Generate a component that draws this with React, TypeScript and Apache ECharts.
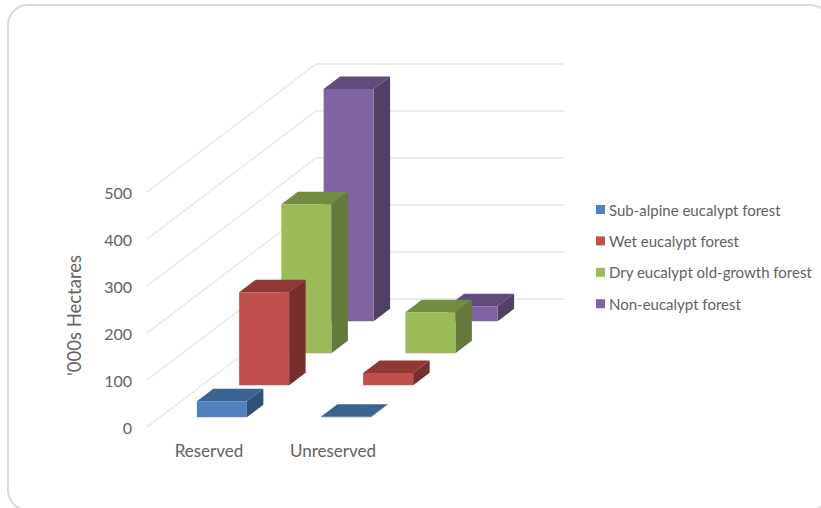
import React, { useEffect, useRef } from "react";
import * as echarts from "echarts";

const categories = ["Reserved", "Unreserved"];
const yTicks = [0, 100, 200, 300, 400, 500];
const subAlpine = [34, 1];
const wetEucalypt = [198, 26];
const dryOldGrowth = [317, 87];
const nonEucalypt = [494, 32];

const seriesNames = [
  "Sub-alpine eucalypt forest",
  "Wet eucalypt forest",
  "Dry eucalypt old-growth forest",
  "Non-eucalypt forest",
];
const seriesValues = [subAlpine, wetEucalypt, dryOldGrowth, nonEucalypt];
const frontColors = ["#4f81bd", "#c0504d", "#9bbb59", "#8064a2"];
const topColors = ["#3c6491", "#8f3836", "#748c41", "#604b7a"];
const sideColors = ["#2f5079", "#772e2c", "#64793a", "#523f66"];

// Oblique projection of the floor: one depth row moves a point right and up.
const ROW_DX = 42.25;
const ROW_DY = -32;
const ROW_COUNT = 4;
const BAR_WIDTH = 50;
const BAR_DEPTH = 0.39; // share of a row taken by the bar
const ROW_INSET = (1 - BAR_DEPTH) / 2;

const TEXT_COLOR = "#626262";
const FONT = "Lato, Carlito, 'Noto Sans', sans-serif";

function pts(a: number[][]) {
  return { points: a };
}

function barRenderer(row: number) {
  return (_params: any, api: any) => {
    const base = api.coord([api.value(0), 0]);
    const tip = api.coord([api.value(0), api.value(1)]);
    const off = row + ROW_INSET;
    const x0 = base[0] - BAR_WIDTH / 2 + off * ROW_DX;
    const x1 = x0 + BAR_WIDTH;
    const yb = base[1] + off * ROW_DY;
    const yt = tip[1] + off * ROW_DY;
    const dx = BAR_DEPTH * ROW_DX;
    const dy = BAR_DEPTH * ROW_DY;
    return {
      type: "group",
      children: [
        {
          type: "polygon",
          shape: pts([[x0, yt], [x0 + dx, yt + dy], [x1 + dx, yt + dy], [x1, yt]]),
          style: { fill: topColors[row] },
        },
        {
          type: "polygon",
          shape: pts([[x1, yt], [x1 + dx, yt + dy], [x1 + dx, yb + dy], [x1, yb]]),
          style: { fill: sideColors[row] },
        },
        {
          type: "polygon",
          shape: pts([[x0, yt], [x1, yt], [x1, yb], [x0, yb]]),
          style: { fill: frontColors[row] },
        },
      ],
    };
  };
}

// Each tick runs across the side wall and then along the back wall.
function wallLineRenderer(params: any, api: any) {
  const rect = params.coordSys;
  const y = api.coord([0, api.value(1)])[1];
  const bx = rect.x + ROW_COUNT * ROW_DX;
  const by = y + ROW_COUNT * ROW_DY;
  return {
    type: "polyline",
    shape: pts([[rect.x, y], [bx, by], [bx + rect.width, by]]),
    style: { stroke: "#e6e6e6", lineWidth: 1.3, fill: "none" },
  };
}

export default function App() {
  const ref = useRef<HTMLDivElement>(null);

  useEffect(() => {
    const chart = echarts.init(ref.current!, undefined, { renderer: "svg" });
    chart.setOption({
      animation: false,
      backgroundColor: "#ffffff",
      textStyle: { fontFamily: FONT },
      graphic: [
        {
          type: "rect",
          shape: { x: 8, y: 5, width: 822, height: 505, r: 20 },
          style: { fill: "#ffffff", stroke: "#d9d9d9", lineWidth: 2 },
          z: -10,
        },
      ],
      grid: { left: 147, top: 192, width: 248, height: 235 },
      xAxis: {
        type: "category",
        data: categories,
        axisLine: { show: false },
        axisTick: { show: false },
        axisLabel: { color: TEXT_COLOR, fontSize: 17, fontFamily: FONT, margin: 15 },
      },
      yAxis: {
        type: "value",
        min: 0,
        max: 500,
        interval: 100,
        axisLine: { show: false },
        axisTick: { show: false },
        splitLine: { show: false },
        axisLabel: { color: TEXT_COLOR, fontSize: 16, fontFamily: FONT, margin: 15 },
        name: "'000s Hectares",
        nameLocation: "middle",
        nameRotate: 90,
        nameGap: 64,
        nameTextStyle: { color: TEXT_COLOR, fontSize: 18.5, fontFamily: FONT, padding: [0, 0, 0, -12] },
      },
      legend: {
        orient: "vertical",
        left: 591,
        top: 197,
        itemWidth: 9,
        itemHeight: 9,
        itemGap: 16.4,
        icon: "rect",
        data: seriesNames,
        textStyle: { color: TEXT_COLOR, fontSize: 15, fontFamily: FONT, padding: [0, 0, 0, -1] },
      },
      series: [
        {
          type: "custom",
          name: "Wall lines",
          silent: true,
          z: 1,
          renderItem: wallLineRenderer,
          encode: { x: 0, y: 1 },
          data: yTicks.map((t) => [0, t]),
        },
        ...seriesNames.map((name, row) => ({
          type: "custom",
          name,
          z: 10 - row,
          itemStyle: { color: frontColors[row] },
          renderItem: barRenderer(row),
          encode: { x: 0, y: 1 },
          data: categories.map((c, i) => [c, seriesValues[row][i]]),
        })),
      ],
    });
    return () => chart.dispose();
  }, []);

  return (
    <div
      ref={ref}
      style={{ position: "absolute", left: 0, top: 0, width: 821, height: 508 }}
    />
  );
}
